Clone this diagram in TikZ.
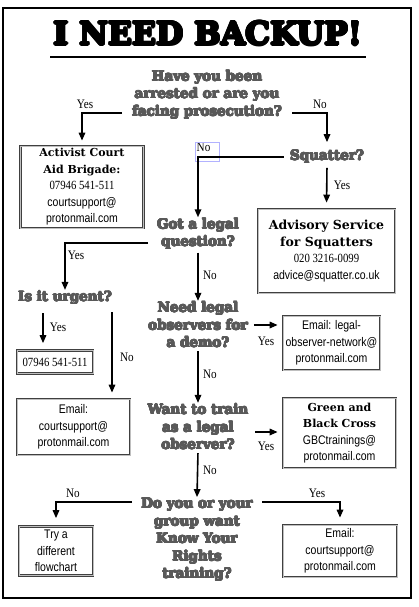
\documentclass[tikz,border=0pt]{standalone}
\usepackage{fontspec}
\usepackage{contour}
\setmainfont{Liberation Serif}
\newfontfamily\slab{DejaVu Serif Bold}
\newfontfamily\mailsans{Liberation Sans}[FakeStretch=0.84]
\newfontfamily\narrowserif{Liberation Serif}[FakeStretch=0.86]
\usetikzlibrary{arrows.meta, calc, positioning}
\contournumber{12}

\newcommand{\hdfont}{\slab\fontsize{11}{15.5}\selectfont}
\newcommand{\bighd}{\slab\fontsize{12.5}{16}\selectfont}
\newcommand{\numfont}{\narrowserif\fontsize{12.5}{16.5}\selectfont}
\newcommand{\mailfont}{\mailsans\fontsize{12.5}{16.5}\selectfont}
\newcommand{\ql}[1]{\contourlength{0.45pt}\contour{.}{#1}}

\tikzset{
  quest/.style={font=\slab\fontsize{13.5}{17.5}\selectfont, text=black!65, align=center, inner xsep=6pt, inner ysep=1pt},
  infobox/.style={draw=black!75, line width=0.7pt, double=black!25, double distance=0.7pt, align=center, font=\mailfont, inner sep=2pt},
  ans/.style={font=\narrowserif\fontsize{13}{14}\selectfont, inner sep=1pt},
  arr/.style={-{Triangle[length=8pt,width=6.5pt]}, line width=1.6pt},
}

\begin{document}
\begin{tikzpicture}[x=1pt,y=-1pt]
\useasboundingbox (0,0) rectangle (418,607);
\fill[white] (0,0) rectangle (418,607);
\draw[line width=2.5pt] (3,8) rectangle (411,598);

% title
\node[font=\slab\fontsize{31.5}{31.5}\selectfont] (title) at (208,34) {\contourlength{1.1pt}\contour{.}{I NEED BACKUP!}};
\draw[line width=2.5pt] (50,57) -- (366,57);

% questions
\node[quest] (q1) at (207,95) {\ql{Have you been}\\\ql{arrested or are you}\\\ql{facing prosecution?}};
\node[quest] (sq) at (327,157) {\ql{Squatter?}};
\node[quest] (q2) at (198,234) {\ql{Got a legal}\\\ql{question?}};
\node[quest] (q3) at (65,298) {\ql{Is it urgent?}};
\node[quest] (q4) at (198,325) {\ql{Need legal}\\\ql{observers for}\\\ql{a demo?}};
\node[quest] (q5) at (198,427) {\ql{Want to train}\\\ql{as a legal}\\\ql{observer?}};
\node[quest] (q6) at (197,540) {\ql{Do you or your}\\\ql{group want}\\\ql{Know Your}\\\ql{Rights}\\\ql{training?}};

% boxes
\node[infobox, minimum width=123pt, minimum height=82pt] (acab) at (82,187)
  {\hdfont Activist Court\\\hdfont Aid Brigade:\\\numfont 07946 541-511\\\mailfont courtsupport@\\\mailfont protonmail.com};
\node[infobox, minimum width=137pt, minimum height=84pt] (ads) at (326.5,251)
  {\bighd Advisory Service\\\bighd for Squatters\\\numfont 020 3216-0099\\\mailfont advice@squatter.co.uk};
\node[infobox, minimum width=76pt, minimum height=23pt, font=\numfont] (urg) at (55,362) {07946 541-511};
\node[infobox, minimum width=97pt, minimum height=54pt] (lon) at (331.5,343) {Email: legal-\\observer-network@\\protonmail.com};
\node[infobox, minimum width=113pt, minimum height=56pt] (cs) at (73.5,427) {Email:\\courtsupport@\\protonmail.com};
\node[infobox, minimum width=113pt, minimum height=70pt] (gbc) at (339.5,433)
  {\hdfont Green and\\\hdfont Black Cross\\\mailfont GBCtrainings@\\\mailfont protonmail.com};
\node[infobox, minimum width=74pt, minimum height=49pt] (try) at (56,551) {Try a\\different\\flowchart};
\node[infobox, minimum width=114pt, minimum height=52pt] (cs2) at (340,551) {Email:\\courtsupport@\\protonmail.com};

% answers
\node[ans] (y1) at (85,104) {Yes};
\node[ans] (n1) at (320,104) {No};
\node[ans, anchor=north west, inner sep=0.5pt] (n2) at (196,142) {No};
\draw[blue!30, line width=0.6pt] (195,142) rectangle (219,161);
\node[ans] (y2) at (342,185) {Yes};
\node[ans] (y3) at (76,255) {Yes};
\node[ans] (n3) at (210,275) {No};
\node[ans] (y4) at (58,327) {Yes};
\node[ans] (n4) at (127,357) {No};
\node[ans] (y5) at (266,341) {Yes};
\node[ans] (n5) at (210,374) {No};
\node[ans] (y6) at (266,446) {Yes};
\node[ans] (n6) at (210,470) {No};
\node[ans] (n7) at (73,493) {No};
\node[ans] (y7) at (317,493) {Yes};

% connectors
\coordinate (q1l) at (122,113);
\coordinate (q1r) at (292,113);
\coordinate (q2l) at (148,243);
\coordinate (q3y) at (43,313);
\coordinate (q3n) at (112,312);
\coordinate (q5e) at (255,432);
\coordinate (q6l) at (132,502);
\coordinate (q6r) at (262,502);
\draw[arr, shorten >=5pt] (q1l) -| (acab.north);
\draw[arr, shorten >=7pt] (q1r) -| (sq.north);
\draw[arr] (sq.west) -| (q2.north);
\draw[arr, shorten <=3pt, shorten >=6pt] (sq.south) -- (ads.north);
\draw[arr] (q2l) -| (q3.north);
\draw[arr, shorten <=2pt] (q2.south) -- (q4.north);
\draw[arr, shorten >=7pt] (q3y) -- (q3y |- urg.north);
\draw[arr, shorten >=6pt] (q3n) -- (q3n |- cs.north);
\draw[arr, shorten >=5pt] (q4.east) -- (lon.west |- q4.east);
\draw[arr, shorten <=2pt] (q4.south) -- (q5.north);
\draw[arr, shorten >=5pt] (q5e) -- (q5e -| gbc.west);
\draw[arr, shorten <=2pt] (q5.south) -- (q6.north);
\draw[arr, shorten >=8pt] (q6l) -| (try.north);
\draw[arr, shorten >=7pt] (q6r) -| (cs2.north);
\end{tikzpicture}
\end{document}
